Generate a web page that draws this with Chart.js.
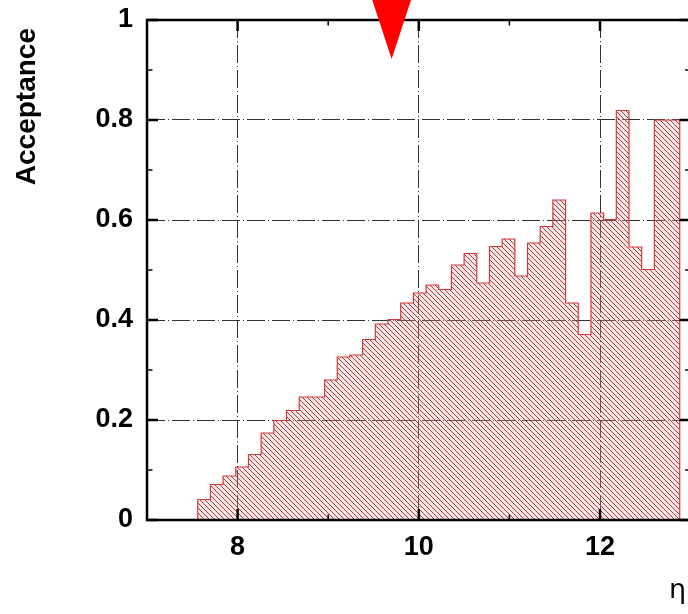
<!DOCTYPE html>
<html>
<head>
<meta charset="utf-8">
<script src="https://cdn.jsdelivr.net/npm/chart.js@4.4.1/dist/chart.umd.min.js"></script>
<style>
  html, body { margin: 0; padding: 0; background: #fff; overflow: hidden; }
  #wrap { position: relative; width: 700px; height: 614px; }
</style>
</head>
<body>
<div id="wrap"><canvas id="c" width="700" height="614"></canvas></div>
<script>
// Histogram bin edges in pseudorapidity (bin width 0.14)
const binEdges = [
  7.56, 7.70, 7.84, 7.98, 8.12, 8.26, 8.40, 8.54, 8.68, 8.82,
  8.96, 9.10, 9.24, 9.38, 9.52, 9.66, 9.80, 9.94, 10.08, 10.22,
  10.36, 10.50, 10.64, 10.78, 10.92, 11.06, 11.20, 11.34, 11.48, 11.62,
  11.76, 11.90, 12.04, 12.18, 12.32, 12.46, 12.60, 12.74, 12.88
];
// Acceptance per bin (one value per bin, binEdges.length - 1 values)
const acceptance = [
  0.019, 0.041, 0.071, 0.088, 0.106, 0.131, 0.174, 0.199, 0.219, 0.246,
  0.246, 0.280, 0.326, 0.330, 0.361, 0.392, 0.401, 0.434, 0.454, 0.470,
  0.461, 0.510, 0.533, 0.474, 0.547, 0.562, 0.488, 0.554, 0.587, 0.640,
  0.434, 0.371, 0.614, 0.601, 0.819, 0.546, 0.501, 0.800
];

const xRange = [7, 13];
const yRange = [0, 1];
const xTickValues = [8, 10, 12];
const xTickLabels = ['8', '10', '12'];
const xMinorTicks = [9, 11];
const yTickValues = [0, 0.2, 0.4, 0.6, 0.8, 1];
const yTickLabels = ['0', '0.2', '0.4', '0.6', '0.8', '1'];
const yMinorTicks = [0.1, 0.3, 0.5, 0.7, 0.9];

// Downward marker at the detector edge
const markerEta = 9.7;
const markerTip = 0.922;
const markerTop = 1.042;

const yTitle = 'Acceptance';
const xTitle = 'η';

// Step outline: rise at the first edge, hold each bin value, drop at the last edge
const points = [{ x: binEdges[0], y: 0 }];
acceptance.forEach((v, i) => points.push({ x: binEdges[i], y: v }));
points.push({ x: binEdges[binEdges.length - 1], y: acceptance[acceptance.length - 1] });
points.push({ x: binEdges[binEdges.length - 1], y: 0 });

// Diagonal hatch fill
function makeHatch() {
  const s = 5;
  const pc = document.createElement('canvas');
  pc.width = s; pc.height = s;
  const p = pc.getContext('2d');
  p.fillStyle = 'rgba(235,170,170,0.28)';
  p.fillRect(0, 0, s, s);
  p.strokeStyle = 'rgba(160,45,45,0.9)';
  p.lineWidth = 1;
  p.beginPath();
  for (const o of [-s, 0, s]) { p.moveTo(o, 0); p.lineTo(o + s, s); }
  p.stroke();
  return document.getElementById('c').getContext('2d').createPattern(pc, 'repeat');
}

const labelFont = { family: '"Liberation Sans", Arial, sans-serif', weight: 'bold', size: 27 };

const framePlugin = {
  id: 'frame',
  afterDatasetsDraw(chart) {
    const { ctx, chartArea: a, scales: { x, y } } = chart;
    ctx.save();
    ctx.strokeStyle = '#000';
    ctx.lineCap = 'butt';
    const seg = (x1, y1, x2, y2, w) => {
      ctx.lineWidth = w;
      ctx.beginPath(); ctx.moveTo(x1, y1); ctx.lineTo(x2, y2); ctx.stroke();
    };
    xTickValues.forEach(v => {
      const px = x.getPixelForValue(v);
      seg(px, a.bottom, px, a.bottom - 11, 2.5);
      seg(px, a.top, px, a.top + 11, 2.5);
    });
    xMinorTicks.forEach(v => {
      const px = x.getPixelForValue(v);
      seg(px, a.bottom, px, a.bottom - 5.5, 1.5);
      seg(px, a.top, px, a.top + 5.5, 1.5);
    });
    yTickValues.forEach(v => {
      const py = y.getPixelForValue(v);
      seg(a.left, py, a.left + 11, py, 2.5);
      seg(a.right, py, a.right - 11, py, 2.5);
    });
    yMinorTicks.forEach(v => {
      const py = y.getPixelForValue(v);
      seg(a.left, py, a.left + 5.5, py, 1.5);
      seg(a.right, py, a.right - 5.5, py, 1.5);
    });
    ctx.lineWidth = 2.5;
    ctx.strokeRect(a.left, a.top, a.right - a.left, a.bottom - a.top);
    ctx.restore();
  },
  afterDraw(chart) {
    const { ctx, scales: { x, y } } = chart;
    ctx.save();
    // marker triangle
    const mx = x.getPixelForValue(markerEta);
    const tipY = y.getPixelForValue(markerTip);
    const topY = y.getPixelForValue(markerTop);
    ctx.fillStyle = '#ff0000';
    ctx.beginPath();
    ctx.moveTo(mx - 19.7, topY);
    ctx.lineTo(mx + 19.7, topY);
    ctx.lineTo(mx, tipY);
    ctx.closePath();
    ctx.fill();
    // axis titles
    ctx.fillStyle = '#000';
    ctx.font = 'bold 28px "Liberation Sans", Arial, sans-serif';
    ctx.translate(27, 28);
    ctx.rotate(-Math.PI / 2);
    ctx.textAlign = 'right';
    ctx.textBaseline = 'middle';
    ctx.fillText(yTitle, 0, 0);
    ctx.setTransform(1, 0, 0, 1, 0, 0);
    ctx.font = '27px "DejaVu Sans", sans-serif';
    ctx.textAlign = 'right';
    ctx.textBaseline = 'alphabetic';
    ctx.fillText(xTitle, 686, 598);
    ctx.restore();
  }
};

new Chart(document.getElementById('c'), {
  type: 'line',
  data: {
    datasets: [{
      data: points,
      stepped: 'after',
      borderColor: '#d03a3a',
      borderWidth: 1.2,
      backgroundColor: makeHatch(),
      fill: 'origin',
      pointRadius: 0,
      tension: 0
    }]
  },
  options: {
    responsive: false,
    animation: false,
    devicePixelRatio: 1,
    layout: { padding: { left: 0, top: 20, right: 9.4, bottom: 0 } },
    plugins: { legend: { display: false }, tooltip: { enabled: false } },
    scales: {
      x: {
        type: 'linear',
        min: xRange[0], max: xRange[1],
        afterBuildTicks: s => { s.ticks = xTickValues.map(v => ({ value: v })); },
        afterFit: s => { s.height = 94; s.paddingLeft = 0; s.paddingRight = 0; },
        grid: { color: '#333', lineWidth: 1, drawTicks: false },
        border: { display: false, dash: [18, 3, 1, 3] },
        ticks: {
          color: '#000', font: labelFont, padding: 11, maxRotation: 0,
          callback: (v, i) => xTickLabels[i]
        }
      },
      y: {
        type: 'linear',
        min: yRange[0], max: yRange[1],
        afterBuildTicks: s => { s.ticks = yTickValues.map(v => ({ value: v })); },
        afterFit: s => { s.width = 147; s.paddingTop = 0; s.paddingBottom = 0; },
        grid: { color: '#333', lineWidth: 1, drawTicks: false },
        border: { display: false, dash: [18, 3, 1, 3] },
        ticks: {
          color: '#000', font: labelFont, padding: 14,
          callback: (v, i) => yTickLabels[i]
        }
      }
    }
  },
  plugins: [framePlugin]
});
</script>
</body>
</html>
